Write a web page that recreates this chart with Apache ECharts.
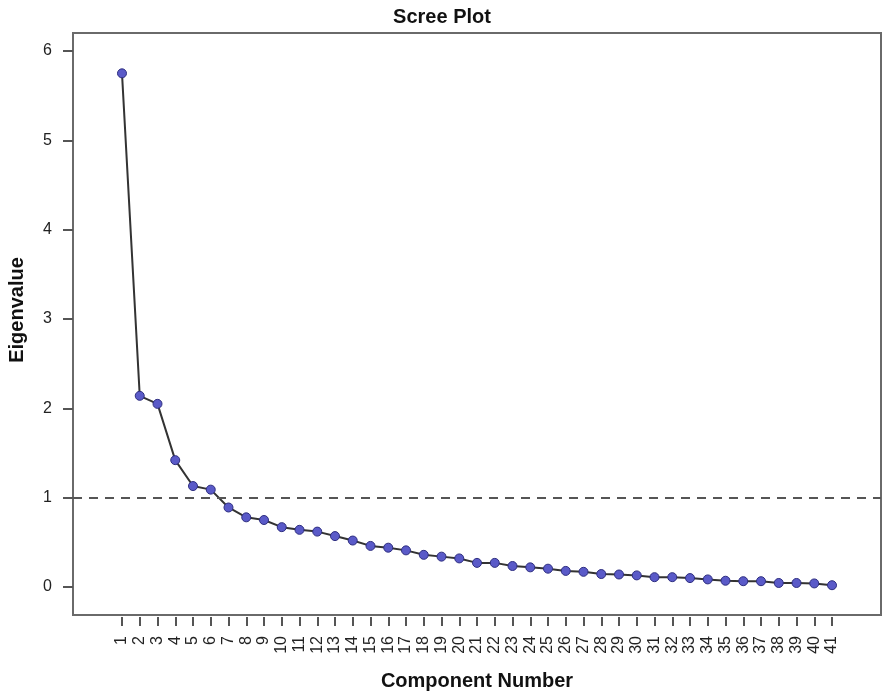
<!DOCTYPE html>
<html>
<head>
<meta charset="utf-8">
<script src="https://cdn.jsdelivr.net/npm/echarts@6/dist/echarts.min.js"></script>
<style>
html,body{margin:0;padding:0;background:#fff;}
#chart{width:884px;height:696px;}
</style>
</head>
<body>
<div id="chart"></div>
<script>
var components = ['1','2','3','4','5','6','7','8','9','10','11','12','13','14','15','16','17','18','19','20','21','22','23','24','25','26','27','28','29','30','31','32','33','34','35','36','37','38','39','40','41'];
var eigenvalues = [5.75,2.14,2.05,1.42,1.13,1.09,0.89,0.78,0.75,0.67,0.64,0.62,0.57,0.52,0.46,0.44,0.41,0.36,0.34,0.32,0.27,0.27,0.235,0.22,0.205,0.18,0.17,0.145,0.14,0.13,0.11,0.11,0.10,0.085,0.07,0.065,0.065,0.045,0.045,0.04,0.02];
var referenceLine = [1];
var titleText = 'Scree Plot';
var xTitle = 'Component Number';
var yTitle = 'Eigenvalue';

var FONT = 'Liberation Sans, Arial, sans-serif';
var pts = components.map(function(c, i){ return [Number(c), eigenvalues[i]]; });

var chart = echarts.init(document.getElementById('chart'), null, {renderer:'canvas'});
chart.setOption({
  animation:false,
  backgroundColor:'#ffffff',
  title:{text:titleText,left:'center',top:2,textStyle:{fontFamily:FONT,fontSize:20,fontWeight:'bold',color:'#111'}},
  grid:[
    {left:73,right:3,top:33,bottom:81,show:true,borderColor:'#6a6a6a',borderWidth:2,backgroundColor:'transparent',containLabel:false,outerBoundsMode:'none'},
    {left:73,right:3,top:51,bottom:109,containLabel:false,outerBoundsMode:'none'},
    {left:122,right:52,top:600,bottom:79,containLabel:false,outerBoundsMode:'none'}
  ],
  xAxis:[
    {gridIndex:0,type:'value',show:false},
    {gridIndex:1,type:'value',min:-1.76,max:43.76,show:false},
    {gridIndex:2,type:'category',data:components,boundaryGap:false,position:'bottom',
     axisLine:{show:false,onZero:false},
     axisTick:{show:true,inside:false,length:9,alignWithLabel:true,lineStyle:{color:'#555',width:2}},
     axisLabel:{rotate:90,margin:19,fontFamily:FONT,fontSize:16,color:'#222',interval:0},
     name:xTitle,nameLocation:'middle',nameGap:54,
     nameTextStyle:{fontFamily:FONT,fontSize:20,fontWeight:'bold',color:'#111'}}
  ],
  yAxis:[
    {gridIndex:0,type:'value',show:false},
    {gridIndex:1,type:'value',min:0,max:6,interval:1,position:'left',
     axisLine:{show:false,onZero:false},splitLine:{show:false},
     axisTick:{show:true,inside:false,length:10,lineStyle:{color:'#555',width:2}},
     axisLabel:{margin:21,fontFamily:FONT,fontSize:16,color:'#222'},
     name:yTitle,nameLocation:'middle',nameGap:46,
     nameTextStyle:{fontFamily:FONT,fontSize:20,fontWeight:'bold',color:'#111',padding:[0,0,0,18]}},
    {gridIndex:2,type:'value',min:0,max:1,show:false}
  ],
  series:[{
    type:'line',xAxisIndex:1,yAxisIndex:1,data:pts,
    symbol:'circle',symbolSize:9,
    lineStyle:{color:'#333',width:2},
    itemStyle:{color:'#5a5ac8',borderColor:'#2e2e80',borderWidth:1},
    markLine:{silent:true,symbol:'none',label:{show:false},
      lineStyle:{color:'#555',type:[9,7],width:2},
      data:referenceLine.map(function(v){return {yAxis:v};})}
  }]
});
</script>
</body>
</html>
